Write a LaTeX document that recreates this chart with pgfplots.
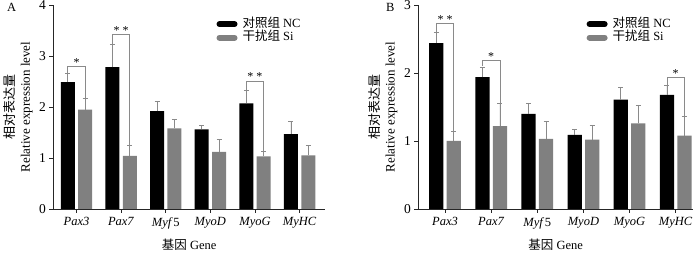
\documentclass[border=0pt]{standalone}
\usepackage{pgfplots}
\pgfplotsset{compat=1.18}
\usepackage{fontspec}
\setmainfont{Liberation Serif}
\newfontfamily\cjk{Noto Sans CJK SC}
\definecolor{sigray}{HTML}{808080}
\definecolor{errgray}{HTML}{8A8A8A}

\pgfplotstableread{
x  nc   ncerr si   sierr
0  2.49 0.17  1.95 0.21
1  2.78 0.45  1.04 0.21
2  1.92 0.19  1.58 0.17
3  1.56 0.08  1.12 0.25
4  2.07 0.26  1.03 0.10
5  1.47 0.24  1.05 0.20
}\dataA
\pgfplotstableread{
x  nc   ncerr si   sierr
0  2.44 0.16  1.00 0.14
1  1.94 0.15  1.22 0.33
2  1.40 0.16  1.03 0.26
3  1.09 0.08  1.02 0.21
4  1.61 0.18  1.26 0.27
5  1.68 0.14  1.08 0.28
}\dataB

\pgfplotsset{
  panel/.style={
    scale only axis,
    height=204pt,
    ymin=0,
    axis x line*=bottom, axis y line*=left,
    axis line style={line width=0.8pt, black!85},
    tick style={line width=0.8pt, black!85},
    tick align=outside,
    major tick length=4pt,
    xtick={0,1,2,3,4,5},
    xticklabels={\textit{Pax3},\textit{Pax7},\textit{Myf\,}5,\textit{MyoD},\textit{MyoG},\textit{MyHC}},
    ytick distance=1,
    /pgf/number format/assume math mode=true,
    x tick label style={font=\fontsize{12.5}{14}\selectfont, yshift=-1pt},
    y tick label style={font=\fontsize{13.5}{14}\selectfont},
    xlabel={{\cjk 基因} Gene},
    xlabel style={at={(axis description cs:0.5,0)}, anchor=center, yshift=-36pt, font=\fontsize{12.5}{14}\selectfont},
    ylabel={{\cjk 相对表达量}\\Relative expression level},
    ylabel style={align=center, at={(axis description cs:-0.075,0.5)}, anchor=south, inner sep=0pt, font=\fontsize{13}{15}\selectfont},
    ybar,
    legend style={draw=none, fill=none, inner sep=0pt, row sep=0pt,
      font=\fontsize{12.5}{14}\selectfont, legend cell align=left,
      nodes={text height=9pt, text depth=2.5pt, inner ysep=1pt}},
    error bars/error bar style={errgray, line width=0.7pt},
    error bars/error mark options={rotate=90, mark size=2.5pt, errgray, line width=0.7pt},
  },
  ncleg/.style={legend image code/.code={\draw[line width=6pt, line cap=round, black] (3pt,0pt)--(18pt,0pt);}},
  sileg/.style={legend image code/.code={\draw[line width=6pt, line cap=round, sigray] (3pt,0pt)--(18pt,0pt);}},
  brk/.style={sharp plot, no marks, errgray, line width=0.7pt, forget plot},
}

\begin{document}
\begin{tikzpicture}[font=\fontsize{12.5}{14}\selectfont]
\path[use as bounding box] (0pt,0pt) rectangle (700pt,253pt);

% Panel A
\begin{axis}[panel, at={(53.3pt,44pt)}, anchor=south west,
  width=271.7pt, xmin=-0.52, xmax=5.57, ymax=4, bar width=0.314,
  legend style={at={(0.6,0.94)}, anchor=north west}]
\addplot[fill=black, draw=none, bar shift=-0.195, ncleg,
  error bars/.cd, y dir=plus, y explicit] table[x=x, y=nc, y error=ncerr] {\dataA};
\addlegendentry{\hspace{3pt}{\cjk 对照组} NC}
\addplot[fill=sigray, draw=none, bar shift=0.195, sileg,
  error bars/.cd, y dir=plus, y explicit] table[x=x, y=si, y error=sierr] {\dataA};
\addlegendentry{\hspace{3pt}{\cjk 干扰组} Si}
\addplot[brk] coordinates {(-0.195,2.67) (-0.195,2.80) (0.195,2.80) (0.195,2.17)};
\addplot[brk] coordinates {(0.805,3.24) (0.805,3.42) (1.195,3.42) (1.195,1.26)};
\addplot[brk] coordinates {(3.805,2.34) (3.805,2.51) (4.195,2.51) (4.195,1.14)};
\node[anchor=base, inner sep=0pt, font=\fontsize{12}{14}\selectfont] at (axis cs:0,2.80) {*};
\node[anchor=base, inner sep=0pt, font=\fontsize{12}{14}\selectfont] at (axis cs:1,3.42) {* *};
\node[anchor=base, inner sep=0pt, font=\fontsize{12}{14}\selectfont] at (axis cs:4,2.51) {* *};
\end{axis}
\node[anchor=north west, inner sep=0pt] at (7pt,250pt) {A};

% Panel B
\begin{axis}[panel, at={(418.3pt,44pt)}, anchor=south west,
  width=274.7pt, xmin=-0.58, xmax=5.375, ymax=3, bar width=0.31,
  legend style={at={(0.612,0.94)}, anchor=north west}]
\addplot[fill=black, draw=none, bar shift=-0.19, ncleg,
  error bars/.cd, y dir=plus, y explicit] table[x=x, y=nc, y error=ncerr] {\dataB};
\addlegendentry{\hspace{3pt}{\cjk 对照组} NC}
\addplot[fill=sigray, draw=none, bar shift=0.19, sileg,
  error bars/.cd, y dir=plus, y explicit] table[x=x, y=si, y error=sierr] {\dataB};
\addlegendentry{\hspace{3pt}{\cjk 干扰组} Si}
\addplot[brk] coordinates {(-0.19,2.61) (-0.19,2.73) (0.19,2.73) (0.19,1.15)};
\addplot[brk] coordinates {(0.81,2.10) (0.81,2.18) (1.19,2.18) (1.19,1.56)};
\addplot[brk] coordinates {(4.81,1.83) (4.81,1.94) (5.19,1.94) (5.19,1.37)};
\node[anchor=base, inner sep=0pt, font=\fontsize{12}{14}\selectfont] at (axis cs:0,2.73) {* *};
\node[anchor=base, inner sep=0pt, font=\fontsize{12}{14}\selectfont] at (axis cs:1,2.18) {*};
\node[anchor=base, inner sep=0pt, font=\fontsize{12}{14}\selectfont] at (axis cs:5,1.94) {*};
\end{axis}
\node[anchor=north west, inner sep=0pt] at (386pt,250pt) {B};
\end{tikzpicture}
\end{document}
